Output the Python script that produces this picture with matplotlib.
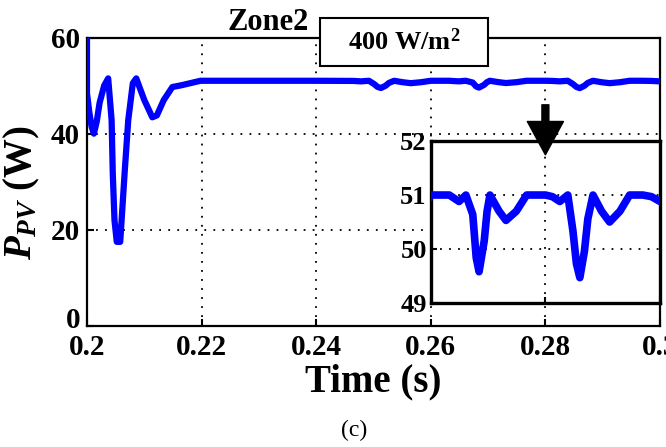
import matplotlib
matplotlib.use("Agg")
import matplotlib.pyplot as plt
from matplotlib.patches import Rectangle
from matplotlib.transforms import ScaledTranslation

# --- Plot Config ---
plt.rcParams.update({
    "font.family": "Liberation Serif",
    "font.weight": "bold",
    "axes.labelweight": "bold",
    "mathtext.fontset": "custom",
    "mathtext.it": "Liberation Serif:italic:bold",
    "mathtext.rm": "Liberation Serif:bold",
    "mathtext.bf": "Liberation Serif:bold",
})

# --- PV power, zone 2 (400 W/m2) ---
time_s = [
    0.2000, 0.2000, 0.2004, 0.2008, 0.2012, 0.2017, 0.2022, 0.2030, 0.2037,
    0.2043, 0.2045, 0.2048, 0.2052, 0.2058, 0.2066, 0.2072, 0.2080, 0.2086,
    0.2100, 0.2114, 0.2122, 0.2134, 0.2149, 0.2166, 0.2198,
    0.2300, 0.2400, 0.2465, 0.2478, 0.2492, 0.2501, 0.2507, 0.2513, 0.2521,
    0.2527, 0.2536, 0.2551, 0.2565, 0.2583, 0.2600,
    0.2632, 0.2649, 0.2661, 0.2673, 0.2679, 0.2684, 0.2693, 0.2698, 0.2703,
    0.2719, 0.2731, 0.2749, 0.2767,
    0.2800, 0.2812, 0.2825, 0.2839, 0.2848, 0.2854, 0.2860, 0.2868, 0.2874,
    0.2883, 0.2898, 0.2912, 0.2930, 0.2947, 0.2970, 0.2985, 0.3000,
]
p_pv = [
    60.5, 48.4, 44.5, 41.5, 40.0, 42.5, 46.4, 50.0, 51.5,
    42.8, 31.8, 22.0, 17.5, 17.5, 32.4, 42.8, 50.5, 51.5,
    47.0, 43.4, 43.8, 47.0, 49.7, 50.1, 51.0,
    51.0, 51.0, 50.97, 50.88, 51.0, 50.33, 49.73, 49.5, 49.96,
    50.56, 51.0, 50.7, 50.5, 50.7, 51.0,
    51.0, 50.88, 51.0, 50.64, 49.84, 49.58, 50.15, 50.7, 51.0,
    50.7, 50.53, 50.7, 51.0,
    51.0, 50.97, 50.88, 51.0, 50.33, 49.73, 49.47, 49.96, 50.56,
    51.0, 50.7, 50.5, 50.7, 51.0, 51.0, 50.97, 50.88,
]

main_xticks = [0.2, 0.22, 0.24, 0.26, 0.28, 0.3]
main_xticklabels = ["0.2", "0.22", "0.24", "0.26", "0.28", "0.3"]
main_yticks = [0, 20, 40, 60]
inset_xticks = [0.26, 0.28, 0.30]
inset_yticks = [49, 50, 51, 52]

grid_style = dict(color="black", linestyle=(0, (1, 4)), linewidth=1.3)

fig = plt.figure(figsize=(6.66, 4.47), dpi=100)

# --- Main axis ---
ax = fig.add_axes([0.1306, 0.2707, 0.8604, 0.6454])
ax.plot(time_s, p_pv, color="blue", linewidth=4.5, solid_capstyle="round",
        solid_joinstyle="round", zorder=3)
ax.set_xlim(0.2, 0.3)
ax.set_ylim(0, 60)
ax.set_xticks(main_xticks)
ax.set_xticklabels(main_xticklabels)
ax.set_yticks(main_yticks)
ax.grid(True, **grid_style)
ax.tick_params(direction="in", length=5, width=1.5, labelsize=21, pad=6)
ax.tick_params(axis="y", pad=5)
for s in ax.spines.values():
    s.set_linewidth(1.6)

# lift the "0" label a bit so it clears the x tick labels
lbl0 = ax.get_yticklabels()[0]
lbl0.set_transform(lbl0.get_transform() + ScaledTranslation(0, 6 / 72, fig.dpi_scale_trans))

ax.set_xlabel("Time (s)", fontsize=28, fontweight="bold")
ax.set_ylabel(r"$P_{PV}$ (W)", fontsize=28, fontweight="bold")
ax.yaxis.set_label_coords(-0.078, 0.46)
ax.xaxis.set_label_coords(0.5, -0.13)

# --- Inset (zoom on steady state) ---
axins = fig.add_axes([0.6471, 0.3221, 0.3439, 0.3624])
axins.plot(time_s, p_pv, color="blue", linewidth=5.5, solid_capstyle="round",
           solid_joinstyle="round", zorder=3)
axins.set_xlim(0.26, 0.30)
axins.set_ylim(49, 52)
axins.set_xticks(inset_xticks)
axins.set_xticklabels([])
axins.set_yticks(inset_yticks)
axins.grid(True, **grid_style)
axins.tick_params(direction="in", length=4, width=1.5, labelsize=19, pad=3)
for s in axins.spines.values():
    s.set_linewidth(2.4)

# arrow pointing into the zoomed region
axins.annotate("", xy=(0.28, 35.6), xytext=(0.28, 46.0),
               xycoords=ax.transData, textcoords=ax.transData,
               arrowprops=dict(facecolor="black", edgecolor="black",
                               width=5, headwidth=26, headlength=24),
               annotation_clip=False)

# --- Labels above the plot ---
fig.text(268 / 666, 1 - 22 / 447, "Zone2", fontsize=22, ha="center", va="center")
fig.add_artist(Rectangle((320 / 666, 1 - 66 / 447), 168 / 666, 48 / 447,
                         transform=fig.transFigure, facecolor="white",
                         edgecolor="black", linewidth=1.5, zorder=5))
fig.text(404 / 666, 1 - 42 / 447, r"400 W/m$^{2}$", fontsize=19,
         ha="center", va="center", zorder=6)

fig.text(354 / 666, 1 - 430 / 447, "(c)", fontsize=17, fontweight="normal",
         ha="center", va="center")

plt.savefig("out.png", dpi=100)
